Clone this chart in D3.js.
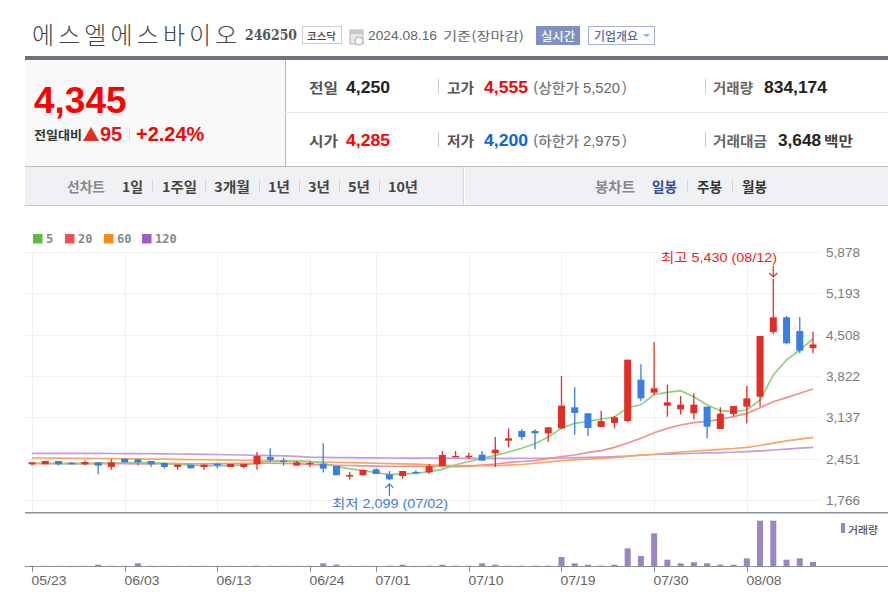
<!DOCTYPE html>
<html lang="ko"><head><meta charset="utf-8">
<script src="https://d3js.org/d3.v7.min.js"></script>
<style>html,body{margin:0;padding:0;background:#fff;overflow:hidden}svg{display:block}
text{font-family:"Liberation Sans","Noto Sans CJK KR",sans-serif}</style></head><body>
<script>
const dates=["05/23","05/24","05/27","05/28","05/29","05/30","05/31","06/03","06/04","06/05","06/07","06/10","06/11","06/12","06/13","06/14","06/17","06/18","06/19","06/20","06/21","06/24","06/25","06/26","06/27","06/28","07/01","07/02","07/03","07/04","07/05","07/08","07/09","07/10","07/11","07/12","07/15","07/16","07/17","07/18","07/19","07/22","07/23","07/24","07/25","07/26","07/29","07/30","07/31","08/01","08/02","08/05","08/06","08/07","08/08","08/09","08/12","08/13","08/14","08/16"];
const opens=[2358,2358,2413,2386,2358,2391,2314,2452,2441,2413,2380,2314,2352,2314,2369,2314,2314,2358,2480,2419,2336,2363,2363,2330,2153,2176,2275,2192,2164,2231,2225,2330,2474,2474,2518,2540,2750,2910,2910,2871,2954,3303,3203,2976,3043,3076,3761,3546,3330,3269,3203,3313,2943,3192,3313,3479,4552,4795,4568,4285];
const highs=[2391,2413,2413,2391,2419,2391,2441,2452,2441,2413,2380,2352,2352,2352,2369,2363,2363,2562,2623,2463,2413,2408,2706,2330,2236,2264,2292,2247,2247,2258,2363,2579,2578,2551,2578,2811,2954,2943,2938,2971,3822,3634,3203,3247,3159,4093,4016,4380,3678,3490,3535,3313,3302,3325,3656,4485,5430,4817,4800,4555];
const lows=[2336,2358,2336,2358,2341,2192,2269,2391,2336,2314,2286,2269,2292,2269,2292,2314,2292,2269,2397,2336,2336,2314,2220,2176,2105,2176,2198,2099,2120,2192,2198,2330,2474,2451,2418,2313,2639,2766,2606,2733,2954,2849,2827,2976,2954,3059,3408,3507,3148,3186,3103,2788,2943,3153,3037,3313,4513,4347,4198,4200];
const closes=[2391,2413,2358,2358,2397,2336,2391,2391,2391,2358,2314,2352,2292,2352,2336,2363,2363,2496,2430,2397,2391,2380,2286,2176,2181,2264,2198,2109,2247,2209,2325,2513,2496,2501,2418,2601,2789,2811,2871,2971,3330,3209,2960,3076,3137,4093,3452,3618,3385,3347,3347,2982,3197,3325,3452,4485,4795,4364,4242,4345];
const volumes=[40000,30000,30000,30000,40000,270000,40000,40000,560000,40000,30000,30000,30000,30000,30000,30000,30000,60000,50000,30000,30000,40000,560000,270000,40000,30000,30000,60000,270000,30000,60000,270000,60000,50000,560000,270000,60000,60000,60000,70000,1880000,560000,270000,80000,270000,3690000,2090000,6820000,1310000,560000,770000,560000,270000,270000,1600000,9450000,9450000,1310000,1600000,834174];
const ma5=[2375,2375,2372,2370,2370,2372,2375,2380,2385,2385,2372,2360,2345,2335,2335,2335,2345,2382,2408,2410,2412,2405,2375,2326,2283,2257,2220,2186,2200,2208,2236,2275,2350,2405,2455,2506,2561,2624,2698,2809,2954,3038,3068,3109,3142,3295,3344,3515,3551,3579,3479,3341,3247,3231,3258,3424,3839,4087,4253,4435];
const ma20=[2370,2370,2370,2370,2370,2369,2368,2367,2366,2366,2368,2368,2367,2367,2368,2370,2372,2374,2375,2372,2368,2358,2347,2342,2338,2332,2328,2326,2326,2325,2324,2322,2320,2325,2346,2363,2390,2404,2418,2450,2484,2512,2556,2584,2639,2710,2790,2880,2954,3010,3048,3070,3103,3148,3203,3297,3396,3463,3535,3606];
const ma60=[2463,2462,2460,2458,2456,2454,2452,2450,2447,2445,2443,2440,2437,2435,2432,2430,2425,2420,2415,2410,2405,2400,2395,2390,2385,2380,2375,2370,2365,2360,2350,2342,2338,2335,2335,2336,2345,2355,2375,2395,2418,2432,2445,2457,2470,2490,2510,2525,2545,2562,2578,2590,2606,2620,2639,2670,2710,2745,2775,2805];
const ma120=[2540,2540,2540,2540,2539,2538,2537,2536,2535,2533,2531,2529,2526,2523,2520,2516,2512,2507,2502,2497,2490,2476,2472,2470,2468,2466,2464,2462,2460,2460,2460,2460,2458,2457,2457,2457,2457,2458,2458,2460,2462,2466,2472,2478,2484,2495,2512,2520,2528,2535,2541,2546,2552,2558,2567,2580,2595,2610,2625,2639];
const yTickValues=[5878,5193,4508,3822,3137,2451,1766];
const xTickLabels=["05/23","06/03","06/13","06/24","07/01","07/10","07/19","07/30","08/08"];
const maNames=["5","20","60","120"];
const maColors=["#8ed07e","#f38f8f","#f8a662","#c29ce2"];
const legendColors=["#5bbd3f","#f25050","#fb8a1c","#a05ad0"];

const RED="#e52d24",BLUE="#3a7ee2",VOL="#9b83c6";
const W=888,H=611;
const svg=d3.select("body").append("svg").attr("width",W).attr("height",H);
const x=d3.scaleLinear().domain([0,59]).range([32,813]);
const y=d3.scaleLinear().domain([1766,5878]).range([500,252]);
const yv=d3.scaleLinear().domain([0,9450000]).range([566,520.7]);
const fmt=d3.format(",");

function T(px,py,s,o={}){
  const t=svg.append("text").attr("x",px).attr("y",py).text(s)
    .attr("font-size",o.size||13).attr("fill",o.fill||"#333").attr("dominant-baseline","central");
  if(o.bold)t.attr("font-weight","bold");
  if(o.weight)t.attr("font-weight",o.weight);
  if(o.family)t.style("font-family",o.family);
  if(o.ls)t.attr("letter-spacing",o.ls);
  if(o.len)t.attr("textLength",o.len).attr("lengthAdjust","spacingAndGlyphs");
  return t;
}
function R(a,b,w,h,f,s){const r=svg.append("rect").attr("x",a).attr("y",b).attr("width",w).attr("height",h).attr("fill",f);if(s)r.attr("stroke",s);return r;}
const KR='"Noto Sans CJK KR",sans-serif';

/* header */
T(32,33,"에스엘에스바이오",{size:24,fill:"#444",family:KR,weight:300,ls:4.1});
T(245,35,"246250",{size:14,bold:true,fill:"#555",family:'"DejaVu Serif",serif',len:52});
R(302.5,26.5,39,17,"#fff","#ccc");
T(307,35,"코스닥",{size:10.5,fill:"#444",family:KR,len:29,weight:500});
R(350,30,13,14,"#e8e8e8","#b5b5b5");R(350,30,13,4,"#c8c8c8");
svg.append("circle").attr("cx",359).attr("cy",41).attr("r",4).attr("fill","#fff").attr("stroke","#aaa");
T(368,35,"2024.08.16",{size:13,fill:"#666",len:69});
T(443,35,"기준(장마감)",{size:12.5,fill:"#666",family:KR,len:81});
R(536,26,44,19,"#7f91c2");
T(541,35,"실시간",{size:12,fill:"#fff",family:KR,len:34,weight:500});
R(588.5,26.5,66,18,"#fff","#a3afd8");
T(594,35,"기업개요",{size:12,fill:"#566aa5",family:KR,len:44,weight:500});
svg.append("path").attr("d","M643 34h7l-3.5 3.5z").attr("fill","#a3afd8");

/* summary */
R(25,56,863,4,"#6c737c");
R(25,60,260,106,"#f9f9f9");
R(285,60,1,106,"#bbb");
R(285,112,603,1,"#e6e6e6");
R(25,166,863,1,"#bbb");
T(34,100,"4,345",{size:37,bold:true,fill:"#f00"});
T(34,134,"전일대비",{size:12,fill:"#333",family:KR,weight:700,len:48});
svg.append("path").attr("d","M83 141L91 127L99 141Z").attr("fill",RED);
T(100,134,"95",{size:20,fill:"#e8101a",bold:true});
R(129,127,1,14,"#ddd");
T(136,134,"+2.24%",{size:20,fill:"#f00",bold:true});
T(309,87,"전일",{size:14,fill:"#555",family:KR,weight:700,len:29});
T(346,87,"4,250",{size:17,fill:"#222",bold:true,len:44});
T(309,140,"시가",{size:14,fill:"#555",family:KR,weight:700,len:29});
T(346,140,"4,285",{size:17,fill:"#f00",bold:true,len:44});
R(438,79,1,15,"#ccc");R(438,132,1,15,"#ccc");
T(447,87,"고가",{size:14,fill:"#555",family:KR,weight:700,len:27});
T(484,87,"4,555",{size:17,fill:"#f00",bold:true,len:44});
T(533,87,"(상한가",{size:14,fill:"#777",family:KR,weight:500,len:46});
T(583,87,"5,520",{size:15,fill:"#666",len:37});
T(622,87,")",{size:14,fill:"#777"});
T(447,140,"저가",{size:14,fill:"#555",family:KR,weight:700,len:27});
T(484,140,"4,200",{size:17,fill:"#0a64e6",bold:true,len:44});
T(533,140,"(하한가",{size:14,fill:"#777",family:KR,weight:500,len:46});
T(583,140,"2,975",{size:15,fill:"#666",len:37});
T(622,140,")",{size:14,fill:"#777"});
R(705,79,1,15,"#ccc");R(705,132,1,15,"#ccc");
T(713,87,"거래량",{size:13.5,fill:"#666",family:KR,weight:700,len:40});
T(764,87,"834,174",{size:16,fill:"#222",bold:true,len:63});
T(713,140,"거래대금",{size:13.5,fill:"#666",family:KR,weight:700,len:54});
T(778,140,"3,648",{size:16,fill:"#222",bold:true,len:43});
T(824,140,"백만",{size:14,fill:"#444",family:KR,weight:700,len:29});

/* toolbar */
R(25,167,863,38,"#f0f1f5");
R(25,205,863,1,"#ccc");
R(463,167,1,38,"#d8d9dd");R(464,167,1,38,"#fff");
const toolL=[["선차트",67,38,"#888"],["1일",122,21,"#444"],["1주일",162,35,"#444"],["3개월",214,36,"#444"],["1년",268,22,"#444"],["3년",308,22,"#444"],["5년",348,22,"#444"],["10년",388,30,"#444"],["봉차트",595,40,"#888"],["일봉",652,25,"#2f4c9e"],["주봉",697,25,"#333"],["월봉",742,25,"#333"]];
toolL.forEach(d=>T(d[1],186,d[0],{size:13.5,fill:d[3],family:KR,weight:700,len:d[2]}));
[152,205,259,299,339,379,687,732].forEach(a=>R(a,180,1,12,"#d5d5d8"));

/* legend */
const legX=[33,65,104,142];
maNames.forEach((n,i)=>{R(legX[i],234,9.5,9.5,legendColors[i]);
  T(legX[i]+13,239,n,{size:12,bold:true,fill:"#888",family:'"DejaVu Sans Mono",monospace'});});

/* grid */
xTickLabels.forEach(l=>{const a=Math.round(x(dates.indexOf(l)))+.5;
  svg.append("line").attr("x1",a).attr("x2",a).attr("y1",252).attr("y2",513).attr("stroke","#f1f1f1");});
yTickValues.forEach(v=>{const b=Math.round(y(v))+.5;
  svg.append("line").attr("x1",25).attr("x2",821).attr("y1",b).attr("y2",b).attr("stroke","#f1f1f1");
  T(826,b,fmt(v),{size:13,fill:"#7a7a7a",len:34});});

/* moving averages */
[ma120,ma60,ma20,ma5].forEach((s,k)=>{
  const c=maColors[3-k];
  svg.append("path").attr("d",d3.line().x((d,i)=>x(i)).y(d=>y(d))(s))
    .attr("fill","none").attr("stroke",c).attr("stroke-width",1.7);
});

/* candles */
const g=svg.append("g");
dates.forEach((d,i)=>{
  const up=closes[i]>=opens[i],c=up?RED:BLUE;
  const cx=x(i);
  g.append("line").attr("x1",cx).attr("x2",cx).attr("y1",y(highs[i])).attr("y2",y(lows[i])).attr("stroke",c).attr("stroke-width",1.3);
  const t=y(Math.max(opens[i],closes[i])),b=y(Math.min(opens[i],closes[i]));
  g.append("rect").attr("x",cx-3.5).attr("width",7).attr("y",t).attr("height",Math.max(b-t,1.3)).attr("fill",c);
});

/* high/low annotations */
const hiI=highs.indexOf(d3.max(highs)),loI=lows.indexOf(d3.min(lows));
const hx=x(hiI),hy=y(highs[hiI]),lx=x(loI),ly=y(lows[loI]);
T(661,257,`최고 ${fmt(highs[hiI])} (${dates[hiI]})`,{size:13,fill:"#f02020",len:116});
svg.append("path").attr("d",`M${hx} ${hy-13}V${hy-2}M${hx-4} ${hy-6}L${hx} ${hy-2}L${hx+4} ${hy-6}`).attr("fill","none").attr("stroke","#e52d24").attr("stroke-width",1.2);
T(332,503,`최저 ${fmt(lows[loI])} (${dates[loI]})`,{size:13,fill:"#3a7ee2",len:116});
svg.append("path").attr("d",`M${lx} ${ly+16}V${ly+4}M${lx-4} ${ly+8}L${lx} ${ly+4}L${lx+4} ${ly+8}`).attr("fill","none").attr("stroke","#3a7ee2").attr("stroke-width",1.2);

/* volume */
R(25,512,863,1.5,"#8a8f98");
dates.forEach((d,i)=>{
  R(x(i)-3,yv(volumes[i]),6,566-yv(volumes[i]),VOL);
});
R(25,566,863,1,"#8a8f98");
R(841,523,4,10,VOL);
T(848,529,"거래량",{size:10.5,fill:"#555",family:KR,len:30,weight:500});
xTickLabels.forEach(l=>{const a=Math.round(x(dates.indexOf(l)))+.5;
  svg.append("line").attr("x1",a).attr("x2",a).attr("y1",567).attr("y2",572).attr("stroke","#888");
  T(a-1,581,l,{size:12.5,fill:"#666",len:35});});
</script></body></html>
